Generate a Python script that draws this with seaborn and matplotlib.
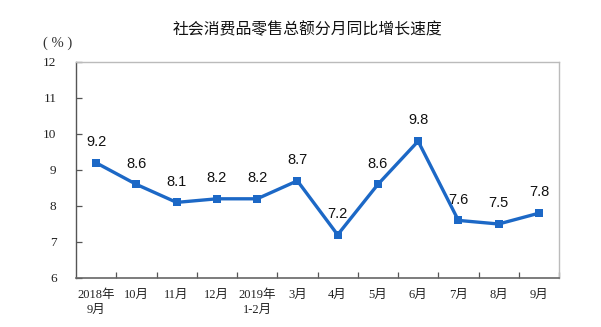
import matplotlib
matplotlib.use("Agg")
import matplotlib.pyplot as plt
import seaborn as sns
import pandas as pd

months = ["2018年\n9月", "10月", "11月", "12月", "2019年\n1-2月", "3月",
          "4月", "5月", "6月", "7月", "8月", "9月"]
growth = [9.2, 8.6, 8.1, 8.2, 8.2, 8.7, 7.2, 8.6, 9.8, 7.6, 7.5, 7.8]
y_ticks = [6, 7, 8, 9, 10, 11, 12]

df = pd.DataFrame({"pos": range(len(months)), "growth": growth})

sns.set_theme(style="white")
serif = ["Liberation Serif", "Noto Sans CJK SC"]
plt.rcParams["font.family"] = ["Liberation Sans", "Noto Sans CJK SC"]

fig = plt.figure(figsize=(6.01, 3.27), dpi=100)
ax = fig.add_axes([76 / 601, 1 - 278 / 327, (559 - 76) / 601, (278 - 62) / 327])

line_color = "#1c68c6"
sns.lineplot(data=df, x="pos", y="growth", ax=ax, color=line_color,
             linewidth=2.4, marker="s", markersize=6, markeredgewidth=0,
             markerfacecolor=line_color)

for i, v in enumerate(growth):
    ax.annotate(f"{v:.1f}", (i, v), xytext=(0, 10), textcoords="offset points",
                ha="center", va="bottom", fontsize=10.5, color="#111111",
                family=["Liberation Sans"])

ax.set_xlim(-0.5, len(months) - 0.5)
ax.set_ylim(6, 12)
ax.set_yticks(y_ticks)
ax.set_yticklabels([str(t) for t in y_ticks], family=serif, fontsize=9.5,
                   color="#222222")
ax.set_xticks(range(len(months)))
ax.set_xticklabels(months, family=serif, fontsize=9, color="#222222",
                   linespacing=1.35)
ax.set_xticks([i + 0.5 for i in range(len(months))], minor=True)
ax.tick_params(axis="x", which="major", length=0, pad=8)
ax.tick_params(axis="x", which="minor", direction="in", length=4,
               color="#555555", width=0.9, bottom=True)
ax.tick_params(axis="y", direction="in", length=4, color="#555555",
               width=0.9, left=True, pad=14)
ax.set_xlabel("")
ax.set_ylabel("")

for side in ["top", "right"]:
    ax.spines[side].set_color("#bbbbbb")
    ax.spines[side].set_linewidth(1.0)
ax.spines["left"].set_color("#555555")
ax.spines["bottom"].set_color("#666666")
ax.spines["left"].set_linewidth(1.0)
ax.spines["bottom"].set_linewidth(1.2)

fig.text(308 / 601, 1 - 30 / 327, "社会消费品零售总额分月同比增长速度",
         ha="center", va="center", fontsize=11.4, color="#111111",
         family=["Noto Sans CJK SC"])
fig.text(58 / 601, 1 - 43 / 327, "( % )", ha="center", va="center",
         fontsize=10.5, color="#333333", family=serif)

fig.savefig("out.png", dpi=100)
